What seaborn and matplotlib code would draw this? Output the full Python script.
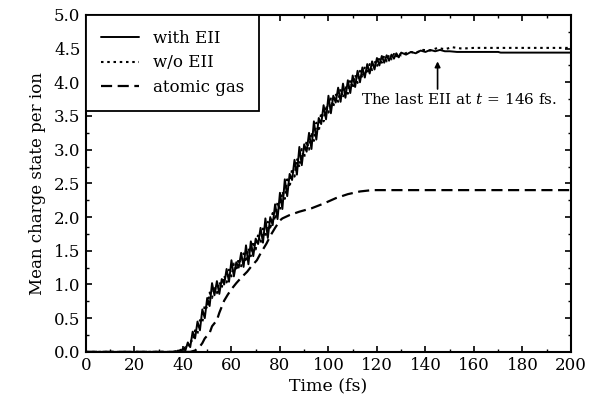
import numpy as np
import pandas as pd
import matplotlib
matplotlib.use("Agg")
import matplotlib.pyplot as plt
import seaborn as sns
from matplotlib.ticker import MultipleLocator

# ---- data ----
time_eii = [0, 36, 37, 38, 39, 40, 41, 42, 43, 44, 45, 46, 47, 48, 49, 50, 51, 52, 53, 54, 55,
            56, 57, 58, 59, 60, 61, 62, 63, 64, 65, 66, 67, 68, 69, 70, 71, 72, 73, 74, 75,
            76, 77, 78, 79, 80, 81, 82, 83, 84, 85, 86, 87, 88, 89, 90, 91, 92, 93, 94, 95,
            96, 97, 98, 99, 100, 101, 102, 103, 104, 105, 106, 107, 108, 109, 110, 111, 112,
            113, 114, 115, 116, 117, 118, 119, 120, 121, 122, 123, 124, 125, 126, 127, 128,
            129, 130, 132, 134, 136, 138, 140, 142, 144, 146, 148, 150, 153, 170, 171, 200]
charge_eii = [0.0, 0.0, 0.0, 0.02, 0.0, 0.05, 0.02, 0.14, 0.07, 0.30, 0.20, 0.45, 0.32, 0.63,
              0.50, 0.80, 0.68, 1.02, 0.84, 1.05, 0.86, 1.08, 1.00, 1.23, 1.04, 1.36, 1.12,
              1.33, 1.25, 1.47, 1.26, 1.58, 1.30, 1.64, 1.42, 1.68, 1.60, 1.84, 1.62, 1.98,
              1.69, 2.00, 1.88, 2.19, 1.97, 2.36, 2.12, 2.56, 2.31, 2.64, 2.55, 2.85, 2.63,
              3.04, 2.77, 3.08, 2.97, 3.25, 3.01, 3.42, 3.15, 3.47, 3.38, 3.66, 3.45, 3.80,
              3.54, 3.80, 3.70, 3.92, 3.71, 3.98, 3.77, 4.03, 3.84, 4.10, 3.93, 4.17, 4.00,
              4.22, 4.07, 4.27, 4.13, 4.31, 4.19, 4.36, 4.25, 4.39, 4.29, 4.40, 4.32, 4.41,
              4.35, 4.43, 4.37, 4.44, 4.41, 4.45, 4.43, 4.47, 4.45, 4.48, 4.46, 4.48, 4.46,
              4.46, 4.45, 4.45, 4.44, 4.44]

time_noeii = [0, 36, 37, 38, 39, 40, 41, 42, 43, 44, 45, 46, 47, 48, 49, 50, 51, 52, 53, 54, 55,
              56, 57, 58, 59, 60, 61, 62, 63, 64, 65, 66, 67, 68, 69, 70, 71, 72, 73, 74, 75,
              76, 77, 78, 79, 80, 81, 82, 83, 84, 85, 86, 87, 88, 89, 90, 91, 92, 93, 94, 95,
              96, 97, 98, 99, 100, 101, 102, 103, 104, 105, 106, 107, 108, 109, 110, 111, 112,
              113, 114, 115, 116, 117, 118, 119, 120, 121, 122, 123, 124, 125, 126, 127, 128,
              129, 130, 133, 136, 139, 142, 145, 148, 151, 155, 160, 200]
charge_noeii = [0.0, 0.0, 0.01, 0.0, 0.03, 0.02, 0.07, 0.06, 0.17, 0.15, 0.32, 0.27, 0.47, 0.43,
                0.70, 0.64, 0.88, 0.80, 0.97, 0.87, 1.04, 0.95, 1.13, 1.03, 1.22, 1.12, 1.31,
                1.20, 1.39, 1.27, 1.46, 1.33, 1.54, 1.42, 1.64, 1.52, 1.74, 1.61, 1.83, 1.70,
                1.93, 1.81, 2.06, 1.95, 2.22, 2.10, 2.38, 2.27, 2.56, 2.44, 2.72, 2.60, 2.87,
                2.74, 3.01, 2.88, 3.13, 3.00, 3.26, 3.13, 3.40, 3.27, 3.55, 3.42, 3.66, 3.55,
                3.76, 3.63, 3.83, 3.71, 3.90, 3.77, 3.95, 3.83, 4.03, 3.91, 4.11, 3.99, 4.17,
                4.06, 4.23, 4.12, 4.27, 4.18, 4.32, 4.23, 4.36, 4.29, 4.39, 4.31, 4.41, 4.34,
                4.42, 4.37, 4.44, 4.40, 4.45, 4.44, 4.48, 4.47, 4.51, 4.49, 4.52, 4.50, 4.51,
                4.51]

time_atomic = [0, 43, 45, 47, 48, 49, 51, 52, 54, 55, 56, 57, 58.5, 60, 62, 64, 66.5, 68, 70.5,
               72, 74.5, 76, 78, 80, 81, 84, 88, 93, 98, 103, 108, 113, 118, 200]
charge_atomic = [0.0, 0.0, 0.02, 0.08, 0.13, 0.20, 0.28, 0.38, 0.47, 0.58, 0.67, 0.76, 0.85,
                 0.93, 1.02, 1.10, 1.19, 1.26, 1.36, 1.46, 1.61, 1.72, 1.84, 1.95, 1.98, 2.03,
                 2.08, 2.13, 2.20, 2.28, 2.34, 2.38, 2.40, 2.40]

series_labels = ["with EII", "w/o EII", "atomic gas"]
x_ticks = [0, 20, 40, 60, 80, 100, 120, 140, 160, 180, 200]
y_ticks = [0.0, 0.5, 1.0, 1.5, 2.0, 2.5, 3.0, 3.5, 4.0, 4.5, 5.0]
last_eii_time = 146

# ---- style ----
sns.set_theme(style="ticks")
plt.rcParams["font.family"] = ["DejaVu Serif"]
plt.rcParams["mathtext.fontset"] = "dejavuserif"
plt.rcParams.update({
    "font.size": 12,
    "axes.linewidth": 1.5,
    "xtick.direction": "in", "ytick.direction": "in",
    "xtick.top": True, "ytick.right": True,
    "xtick.major.size": 4, "ytick.major.size": 4,
    "xtick.minor.size": 2.5, "ytick.minor.size": 2.5,
    "xtick.major.width": 1.2, "ytick.major.width": 1.2,
    "xtick.minor.width": 1.0, "ytick.minor.width": 1.0,
    "xtick.color": "black", "ytick.color": "black",
    "axes.edgecolor": "black", "text.color": "black",
    "axes.labelcolor": "black",
})

fig = plt.figure(figsize=(6.01, 4.13), dpi=100)
ax = fig.add_axes([0.143, 0.148, 0.807, 0.816])

df_eii = pd.DataFrame({"t": time_eii, "q": charge_eii})
df_no = pd.DataFrame({"t": time_noeii, "q": charge_noeii})
df_at = pd.DataFrame({"t": time_atomic, "q": charge_atomic})

sns.lineplot(data=df_no, x="t", y="q", ax=ax, color="black", lw=1.5,
             linestyle=(0, (1.2, 1.8)), label=series_labels[1], sort=False, estimator=None)
sns.lineplot(data=df_eii, x="t", y="q", ax=ax, color="black", lw=1.4,
             label=series_labels[0], sort=False, estimator=None)
sns.lineplot(data=df_at, x="t", y="q", ax=ax, color="black", lw=1.6,
             linestyle=(0, (5, 2.5)), label=series_labels[2], sort=False, estimator=None)

ax.set_xlim(0, 200)
ax.set_ylim(0, 5)
ax.set_xticks(x_ticks)
ax.set_yticks(y_ticks)
ax.set_yticklabels([f"{v:.1f}" for v in y_ticks])
ax.xaxis.set_minor_locator(MultipleLocator(10))
ax.yaxis.set_minor_locator(MultipleLocator(0.25))
ax.tick_params(axis="both", which="major", labelsize=12, pad=4)
ax.set_xlabel("Time (fs)", fontsize=12.5, labelpad=2)
ax.set_ylabel("Mean charge state per ion", fontsize=12, labelpad=6)

handles, labels = ax.get_legend_handles_labels()
order = [labels.index(l) for l in series_labels]
leg = ax.legend([handles[i] for i in order], [labels[i] for i in order],
                loc="upper left", borderaxespad=0, frameon=True, fancybox=False,
                edgecolor="black", framealpha=1, handlelength=2.3, labelspacing=0.45,
                fontsize=12, borderpad=0.9, handletextpad=0.8)
leg.get_frame().set_linewidth(1.3)

ax.annotate("", xy=(last_eii_time - 1, 4.31), xytext=(last_eii_time - 1, 3.9),
            arrowprops=dict(arrowstyle="-|>", color="black", lw=1.2,
                            mutation_scale=8, shrinkA=0, shrinkB=0))
ax.text(113.5, 3.75, f"The last EII at $t$ = {last_eii_time} fs.", fontsize=11,
        ha="left", va="center")

fig.savefig("out.png", dpi=100)
